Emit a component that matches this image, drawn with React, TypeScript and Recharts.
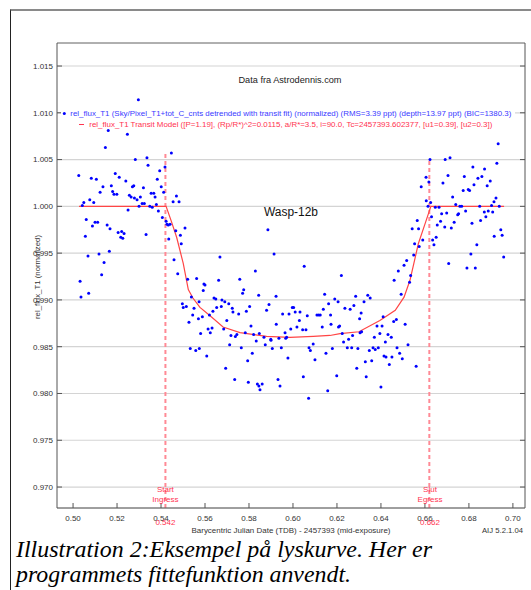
import React from 'react';
import { ComposedChart, Scatter, Line, XAxis, YAxis, CartesianGrid, ReferenceLine } from 'recharts';

// observed points (BJD - 2457393, normalized rel_flux_T1)
const obsTime = [
  0.5026, 0.5032, 0.5036, 0.5042, 0.5049, 0.5056, 0.5060, 0.5068, 0.5071, 0.5076,
  0.5083, 0.5088, 0.5094, 0.5100, 0.5106, 0.5112, 0.5118, 0.5123, 0.5130, 0.5136,
  0.5141, 0.5147, 0.5155, 0.5160, 0.5165, 0.5168, 0.5174, 0.5180, 0.5186, 0.5192,
  0.5199, 0.5205, 0.5210, 0.5217, 0.5221, 0.5226, 0.5232, 0.5240, 0.5247, 0.5250,
  0.5256, 0.5264, 0.5270, 0.5276, 0.5279, 0.5283, 0.5291, 0.5297, 0.5300, 0.5306,
  0.5314, 0.5320, 0.5324, 0.5332, 0.5336, 0.5341, 0.5349, 0.5355, 0.5360, 0.5367,
  0.5373, 0.5379, 0.5383, 0.5388, 0.5394, 0.5401, 0.5406, 0.5412, 0.5418, 0.5423,
  0.5427, 0.5433, 0.5435, 0.5441, 0.5447, 0.5455, 0.5459, 0.5467, 0.5470, 0.5476,
  0.5482, 0.5488, 0.5492, 0.5497, 0.5501, 0.5509, 0.5515, 0.5521, 0.5527, 0.5533,
  0.5538, 0.5544, 0.5550, 0.5558, 0.5562, 0.5570, 0.5573, 0.5574, 0.5580, 0.5588,
  0.5592, 0.5595, 0.5600, 0.5608, 0.5614, 0.5620, 0.5624, 0.5632, 0.5636, 0.5641,
  0.5649, 0.5653, 0.5662, 0.5668, 0.5674, 0.5677, 0.5685, 0.5690, 0.5694, 0.5699,
  0.5708, 0.5712, 0.5718, 0.5724, 0.5727, 0.5735, 0.5738, 0.5745, 0.5753, 0.5758,
  0.5765, 0.5771, 0.5776, 0.5783, 0.5788, 0.5794, 0.5797, 0.5803, 0.5809, 0.5815,
  0.5821, 0.5829, 0.5833, 0.5838, 0.5844, 0.5845, 0.5847, 0.5850, 0.5860, 0.5868,
  0.5874, 0.5880, 0.5886, 0.5891, 0.5899, 0.5900, 0.5906, 0.5914, 0.5923, 0.5924,
  0.5932, 0.5936, 0.5941, 0.5947, 0.5953, 0.5964, 0.5967, 0.5971, 0.5977, 0.5982,
  0.5990, 0.5997, 0.6003, 0.6010, 0.6018, 0.6029, 0.6032, 0.6044, 0.6047, 0.6051,
  0.6059, 0.6065, 0.6071, 0.6073, 0.6079, 0.6092, 0.6100, 0.6109, 0.6117, 0.6124,
  0.6133, 0.6138, 0.6144, 0.6150, 0.6158, 0.6162, 0.6171, 0.6173, 0.6179, 0.6190,
  0.6199, 0.6205, 0.6207, 0.6212, 0.6220, 0.6224, 0.6230, 0.6236, 0.6247, 0.6253,
  0.6260, 0.6267, 0.6271, 0.6277, 0.6285, 0.6290, 0.6295, 0.6303, 0.6305, 0.6310,
  0.6312, 0.6323, 0.6329, 0.6333, 0.6340, 0.6347, 0.6351, 0.6358, 0.6364, 0.6370,
  0.6374, 0.6382, 0.6388, 0.6395, 0.6400, 0.6405, 0.6410, 0.6414, 0.6420, 0.6423,
  0.6432, 0.6438, 0.6447, 0.6450, 0.6458, 0.6460, 0.6470, 0.6473, 0.6479, 0.6485,
  0.6492, 0.6497, 0.6505, 0.6510, 0.6517, 0.6523, 0.6530, 0.6535, 0.6542, 0.6549,
  0.6553, 0.6560, 0.6565, 0.6571, 0.6574, 0.6583, 0.6590, 0.6605, 0.6606, 0.6614,
  0.6618, 0.6623, 0.6626, 0.6630, 0.6635, 0.6641, 0.6647, 0.6651, 0.6656, 0.6664,
  0.6671, 0.6676, 0.6682, 0.6690, 0.6692, 0.6699, 0.6705, 0.6708, 0.6714, 0.6720,
  0.6726, 0.6733, 0.6740, 0.6749, 0.6753, 0.6759, 0.6767, 0.6774, 0.6779, 0.6785,
  0.6791, 0.6797, 0.6803, 0.6809, 0.6814, 0.6818, 0.6823, 0.6829, 0.6836, 0.6841,
  0.6849, 0.6853, 0.6859, 0.6870, 0.6871, 0.6877, 0.6883, 0.6888, 0.6897, 0.6903,
  0.6908, 0.6914, 0.6915, 0.6923, 0.6927, 0.6933, 0.6938, 0.6945, 0.6951, 0.6958,
];

const obsFlux = [
  1.0033, 0.9920, 0.9903, 1.0001, 1.0004, 0.9968, 0.9986, 0.9947, 0.9907, 1.0007,
  1.0030, 0.9979, 1.0004, 0.9983, 1.0029, 0.9983, 0.9949, 1.0015, 0.9927, 1.0021,
  0.9940, 1.0063, 0.9980, 1.0081, 0.9952, 0.9976, 1.0022, 1.0016, 1.0013, 1.0035,
  1.0013, 0.9972, 1.0031, 0.9967, 0.9973, 0.9966, 0.9971, 1.0027, 1.0077, 0.9996,
  1.0012, 1.0010, 1.0021, 1.0022, 1.0009, 1.0050, 1.0007, 1.0114, 1.0000, 1.0010,
  1.0003, 1.0020, 1.0003, 0.9970, 1.0052, 1.0044, 1.0000, 1.0014, 0.9999, 1.0014,
  1.0010, 1.0002, 1.0029, 0.9995, 1.0038, 1.0021, 0.9988, 1.0015, 1.0042, 0.9984,
  0.9981, 0.9980, 0.9965, 0.9981, 1.0057, 1.0005, 0.9943, 0.9974, 1.0011, 0.9928,
  1.0005, 0.9969, 0.9960, 0.9896, 0.9892, 0.9977, 0.9893, 0.9922, 0.9876, 0.9848,
  0.9903, 0.9884, 0.9891, 0.9846, 0.9923, 0.9880, 0.9898, 0.9848, 0.9864, 0.9882,
  0.9910, 0.9917, 0.9916, 0.9840, 0.9869, 0.9884, 0.9865, 0.9870, 0.9888, 0.9902,
  0.9901, 0.9892, 0.9921, 0.9946, 0.9893, 0.9900, 0.9869, 0.9898, 0.9827, 0.9878,
  0.9896, 0.9852, 0.9862, 0.9891, 0.9887, 0.9815, 0.9861, 0.9863, 0.9885, 0.9922,
  0.9849, 0.9907, 0.9911, 0.9865, 0.9888, 0.9835, 0.9812, 0.9893, 0.9872, 0.9843,
  0.9863, 0.9931, 0.9856, 0.9810, 0.9905, 0.9808, 0.9864, 0.9804, 0.9810, 0.9860,
  0.9852, 0.9889, 0.9975, 0.9895, 0.9858, 0.9857, 0.9848, 0.9949, 0.9904, 0.9874,
  0.9815, 0.9859, 0.9808, 0.9849, 0.9885, 0.9865, 0.9859, 0.9860, 0.9838, 0.9885,
  0.9869, 0.9892, 0.9892, 0.9887, 0.9871, 0.9878, 0.9887, 0.9868, 0.9818, 0.9936,
  0.9868, 0.9883, 0.9795, 0.9849, 0.9846, 0.9853, 0.9836, 0.9884, 0.9884, 0.9884,
  0.9871, 0.9890, 0.9906, 0.9843, 0.9803, 0.9896, 0.9884, 0.9874, 0.9848, 0.9901,
  0.9819, 0.9898, 0.9871, 0.9872, 0.9926, 0.9864, 0.9855, 0.9891, 0.9849, 0.9858,
  0.9890, 0.9849, 0.9862, 0.9894, 0.9904, 0.9827, 0.9848, 0.9880, 0.9865, 0.9886,
  0.9866, 0.9898, 0.9834, 0.9818, 0.9905, 0.9846, 0.9902, 0.9835, 0.9849, 0.9860,
  0.9847, 0.9872, 0.9849, 0.9864, 0.9807, 0.9872, 0.9882, 0.9840, 0.9855, 0.9839,
  0.9863, 0.9831, 0.9860, 0.9839, 0.9877, 0.9921, 0.9879, 0.9849, 0.9931, 0.9843,
  0.9906, 0.9837, 0.9937, 0.9874, 0.9942, 0.9852, 0.9919, 0.9926, 0.9976, 0.9948,
  0.9960, 0.9829, 0.9985, 0.9976, 0.9957, 1.0021, 0.9964, 1.0031, 1.0006, 1.0000,
  1.0026, 1.0050, 1.0004, 0.9989, 0.9964, 0.9959, 0.9999, 0.9967, 0.9980, 0.9999,
  0.9984, 0.9992, 1.0025, 0.9978, 1.0050, 0.9993, 1.0033, 0.9939, 1.0052, 0.9977,
  1.0010, 0.9983, 1.0002, 0.9991, 0.9992, 1.0000, 1.0000, 1.0017, 1.0032, 0.9995,
  0.9934, 1.0018, 1.0017, 0.9949, 0.9982, 1.0042, 1.0023, 0.9934, 0.9959, 1.0030,
  1.0000, 0.9985, 1.0032, 0.9994, 1.0040, 0.9989, 1.0022, 0.9995, 1.0027, 1.0001,
  0.9994, 1.0005, 0.9968, 1.0009, 1.0046, 1.0067, 1.0000, 0.9975, 0.9969, 0.9946,
];

// transit model curve
const modelTime = [
  0.5027, 0.5423, 0.5447, 0.5471, 0.5501, 0.5524, 0.5545, 0.5577, 0.5623, 0.5682,
  0.5759, 0.5880, 0.5986, 0.6092, 0.6168, 0.6214, 0.6300, 0.6395, 0.6465, 0.6505,
  0.6532, 0.6570, 0.6600, 0.6627, 0.6960,
];
const modelFlux = [
  1.0000, 1.0000, 0.9984, 0.9967, 0.9939, 0.9911, 0.9902, 0.9892, 0.9883, 0.9871,
  0.9865, 0.9861, 0.9860, 0.9861, 0.9862, 0.9864, 0.9866, 0.9878, 0.9889, 0.9903,
  0.9921, 0.9960, 0.9981, 1.0000, 1.0000,
];

const xTicks = [0.5, 0.52, 0.54, 0.56, 0.58, 0.6, 0.62, 0.64, 0.66, 0.68, 0.7];
const yTicks = [0.97, 0.975, 0.98, 0.985, 0.99, 0.995, 1.0, 1.005, 1.01, 1.015];

const ingressT = 0.542;
const egressT = 0.662;
const ingressTop = 1.0057;
const egressTop = 1.005;

const xDomain = [0.4927, 0.7055];
const yDomain = [0.96776, 1.01746];

const points = obsTime.map((t, i) => ({ t, f: obsFlux[i] }));
const model = modelTime.map((t, i) => ({ t, f: modelFlux[i] }));

const FONT = '"Liberation Sans", Arial, sans-serif';
const RED = '#ff3350';

const Dot = (props: any) => <circle cx={props.cx} cy={props.cy} r={1.5} fill="#0000ff" />;

export default function App() {
  return (
    <div style={{ position: 'absolute', left: 0, top: 0, width: 531, height: 590, overflow: 'hidden', background: '#fff', fontFamily: FONT }}>
      <div style={{ position: 'absolute', left: 10, top: 9, width: 540, height: 600, borderTop: '2px solid #8a8a8a', borderLeft: '1.5px solid #222' }} />
      <div style={{ position: 'absolute', left: 0, top: 0 }}>
        <ComposedChart width={531} height={545} margin={{ top: 42, right: 5, bottom: 7, left: 0 }}>
          <CartesianGrid vertical={false} stroke="#d4d4d4" strokeWidth={1.2} />
          <XAxis
            type="number"
            dataKey="t"
            domain={xDomain}
            ticks={xTicks}
            allowDataOverflow
            height={30}
            tickSize={-5}
            tickMargin={12}
            tickFormatter={(v: number) => v.toFixed(2)}
            tick={{ fill: '#333', fontSize: 8, fontFamily: FONT }}
            stroke="#555"
          />
          <XAxis
            xAxisId="top"
            orientation="top"
            type="number"
            domain={xDomain}
            ticks={xTicks}
            allowDataOverflow
            height={1}
            tickSize={-5}
            tickFormatter={() => ''}
            stroke="#777"
          />
          <YAxis
            type="number"
            dataKey="f"
            domain={yDomain}
            ticks={yTicks}
            allowDataOverflow
            width={57}
            tickSize={-5}
            tickMargin={9}
            tickFormatter={(v: number) => v.toFixed(3)}
            tick={{ fill: '#333', fontSize: 8, fontFamily: FONT }}
            stroke="#555"
          />
          <YAxis
            yAxisId="right"
            orientation="right"
            type="number"
            domain={yDomain}
            ticks={yTicks}
            allowDataOverflow
            width={1}
            tickSize={-5}
            tickFormatter={() => ''}
            stroke="#555"
          />
          <ReferenceLine
            segment={[{ x: ingressT, y: yDomain[0] }, { x: ingressT, y: ingressTop }]}
            stroke="#ff8a95"
            strokeWidth={2}
            strokeDasharray="4 3"
          />
          <ReferenceLine
            segment={[{ x: egressT, y: yDomain[0] }, { x: egressT, y: egressTop }]}
            stroke="#ff8a95"
            strokeWidth={2}
            strokeDasharray="4 3"
          />
          <Line
            data={model}
            dataKey="f"
            type="linear"
            stroke="#ff4545"
            strokeWidth={1.2}
            dot={false}
            isAnimationActive={false}
          />
          <Scatter data={points} dataKey="f" shape={Dot} isAnimationActive={false} />
        </ComposedChart>
      </div>
      <svg width={531} height={590} style={{ position: 'absolute', left: 0, top: 0, pointerEvents: 'none' }} fontFamily={FONT}>
        <text x={290} y={83.2} textAnchor="middle" fontSize={9} fill="#222" textLength={103} lengthAdjust="spacingAndGlyphs">
          Data fra Astrodennis.com
        </text>
        <rect x={61} y={107} width={454} height={22} fill="#fff" />
        <circle cx={64.3} cy={113.5} r={1.5} fill="#0000ff" />
        <text x={70.3} y={116.2} fontSize={7.5} fill="#3a3aff" textLength={441} lengthAdjust="spacingAndGlyphs">
          rel_flux_T1 (Sky/Pixel_T1+tot_C_cnts detrended with transit fit) (normalized) (RMS=3.39 ppt) (depth=13.97 ppt) (BIC=1380.3)
        </text>
        <line x1={79} x2={84} y1={124.5} y2={124.5} stroke={RED} strokeWidth={1} />
        <text x={89.3} y={127.2} fontSize={7.5} fill={RED} textLength={403} lengthAdjust="spacingAndGlyphs">
          rel_flux_T1 Transit Model ([P=1.19], (Rp/R*)^2=0.0115, a/R*=3.5, i=90.0, Tc=2457393.602377, [u1=0.39], [u2=0.3])
        </text>
        <text x={291} y={216} textAnchor="middle" fontSize={12} fill="#111" textLength={54} lengthAdjust="spacingAndGlyphs">
          Wasp-12b
        </text>
        <text transform="translate(39.7,277) rotate(-90)" textAnchor="middle" fontSize={7.8} fill="#333">
          rel_flux_T1 (normalized)
        </text>
        <text x={165.4} y={492} textAnchor="middle" fontSize={8} fill={RED}>Start</text>
        <text x={165.4} y={502} textAnchor="middle" fontSize={8} fill={RED}>Ingress</text>
        <text x={430} y={492} textAnchor="middle" fontSize={8} fill={RED}>Slut</text>
        <text x={430} y={502} textAnchor="middle" fontSize={8} fill={RED}>Egress</text>
        <text x={165.4} y={525} textAnchor="middle" fontSize={8} fill={RED}>0.542</text>
        <text x={430} y={525} textAnchor="middle" fontSize={8} fill={RED}>0.662</text>
        <text x={291} y={532.5} textAnchor="middle" fontSize={7.8} fill="#333" textLength={199} lengthAdjust="spacingAndGlyphs">
          Barycentric Julian Date (TDB) - 2457393 (mid-exposure)
        </text>
        <text x={523} y={532.5} textAnchor="end" fontSize={7.8} fill="#333" textLength={41} lengthAdjust="spacingAndGlyphs">
          AIJ 5.2.1.04
        </text>
        <text x={16} y={557} fontFamily='"Liberation Serif", "Times New Roman", serif' fontStyle="italic" fontSize={23} fill="#000" textLength={416} lengthAdjust="spacingAndGlyphs">
          Illustration 2:Eksempel på lyskurve. Her er
        </text>
        <text x={16} y={582} fontFamily='"Liberation Serif", "Times New Roman", serif' fontStyle="italic" fontSize={23} fill="#000" textLength={335} lengthAdjust="spacingAndGlyphs">
          programmets fittefunktion anvendt.
        </text>
      </svg>
    </div>
  );
}
